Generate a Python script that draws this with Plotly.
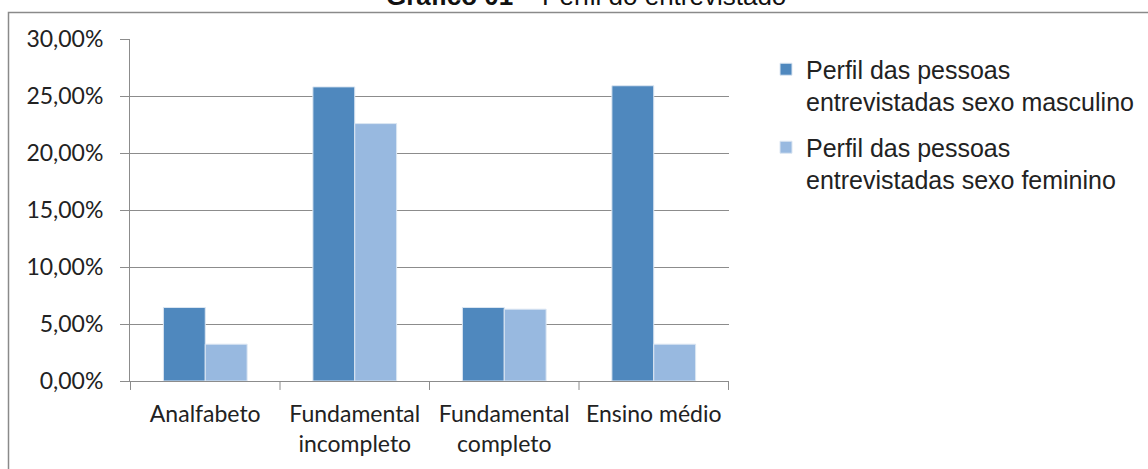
import plotly.graph_objects as go

categories = ["Analfabeto", "Fundamental<br>incompleto", "Fundamental<br>completo", "Ensino médio"]
masculino = [6.45, 25.8, 6.45, 25.9]
feminino = [3.23, 22.58, 6.3, 3.23]
series_names = ["Perfil das pessoas<br>entrevistadas sexo masculino",
                "Perfil das pessoas<br>entrevistadas sexo feminino"]
y_ticks = [0, 5, 10, 15, 20, 25, 30]
y_tick_labels = ["0,00%", "5,00%", "10,00%", "15,00%", "20,00%", "25,00%", "30,00%"]
title_text = "<b>Gráfico 01</b> – Perfil do entrevistado"

fig = go.Figure()
fig.add_trace(go.Bar(x=categories, y=masculino, name=series_names[0], legendgroup="m",
                     marker=dict(color="#4F88BE", line=dict(color="#DCE6F2", width=1))))
fig.add_trace(go.Bar(x=categories, y=feminino, name=series_names[1], legendgroup="f",
                     marker=dict(color="#98B9E0", line=dict(color="#DCE6F2", width=1))))

W, H = 1148, 469
L, R = 130, 729
T, B = 38.5, 381.5
pw, ph = R - L, B - T

fig.update_layout(
    width=W, height=H,
    margin=dict(l=L, r=W - R, t=T, b=H - B, pad=0, autoexpand=False),
    paper_bgcolor="white", plot_bgcolor="white",
    barmode="group", bargap=0.44, bargroupgap=0,
    showlegend=True,
    legend=dict(x=(766 - L) / pw, y=1 - (46 - T) / ph, xanchor="left", yanchor="top",
                font=dict(family="Liberation Sans, Arial", size=25, color="#222222"),
                traceorder="grouped", tracegroupgap=10, itemwidth=30, valign="top",
                bgcolor="rgba(0,0,0,0)"),
    font=dict(family="Lato", size=23, color="#222222"),
)

fig.update_xaxes(
    showline=True, linecolor="#8C8C8C", linewidth=1,
    ticks="", showgrid=False,
    tickfont=dict(family="Lato", size=23, color="#222222"),
    ticklabelstandoff=12,
    fixedrange=True,
)
fig.update_yaxes(
    range=[0, 30], tickvals=y_ticks, ticktext=y_tick_labels,
    showline=True, linecolor="#8C8C8C", linewidth=1,
    ticks="outside", ticklen=9, tickcolor="#8C8C8C",
    showgrid=True, gridcolor="#8C8C8C", gridwidth=1,
    zeroline=False,
    tickfont=dict(family="Lato", size=23, color="#222222"),
    ticklabelstandoff=12,
    fixedrange=True,
)

# category boundary ticks on the x axis
for i in range(len(categories) + 1):
    fig.add_shape(type="line", xref="x", yref="paper",
                  x0=i - 0.5, x1=i - 0.5, y0=0, y1=-9 / ph,
                  line=dict(color="#8C8C8C", width=1))

# outer chart frame
fig.add_shape(type="rect", xref="paper", yref="paper",
              x0=(8.5 - L) / pw, x1=(1300 - L) / pw,
              y0=-1, y1=1 + (T - 12) / ph,
              line=dict(color="#8A8A8A", width=1.5), layer="below")

fig.add_annotation(text=title_text, xref="paper", yref="paper",
                   x=(586 - L) / pw, y=1 + (T + 4.5) / ph,
                   xanchor="center", yanchor="middle", showarrow=False,
                   font=dict(family="Liberation Sans, Arial", size=26, color="#111111"))

fig.write_html("out.html")
